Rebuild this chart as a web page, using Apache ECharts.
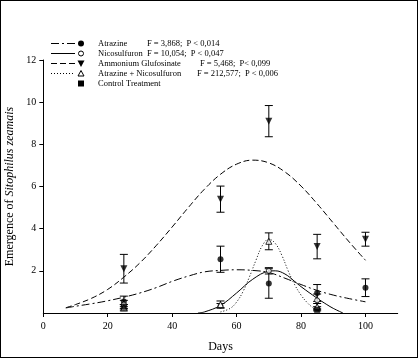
<!DOCTYPE html>
<html>
<head>
<meta charset="utf-8">
<script src="https://cdn.jsdelivr.net/npm/echarts@6/dist/echarts.min.js"></script>
<style>
  html, body { margin: 0; padding: 0; background: #fff; }
  #main { width: 416px; height: 356px; border: 1px solid #000; }
</style>
</head>
<body>
<div id="main"></div>
<script>
// measured values (mean, +/- error) per sampling day
const days = [25, 55, 70, 85, 100]
const atrazine = [0.55, 2.55, 1.4, 0.95, 1.2]
const atrazineErr = [0.25, 0.62, 0.7, 0.4, 0.42]
const nicosulfuron = [0.4, 0.35, 2.0, 0.6, null]
const nicosulfuronErr = [0.2, 0.1, 0.15, 0.3, null]
const glufosinate = [2.1, 5.4, 9.1, 3.15, 3.5]
const glufosinateErr = [0.68, 0.62, 0.74, 0.58, 0.33]
const atrNico = [0.25, 0.4, 3.4, 0.3, null]
const atrNicoErr = [0.15, 0.17, 0.4, 0.15, null]
const control = [0.3, null, null, 0.15, null]
const controlErr = [0.1, null, null, 0.05, null]

// fitted curves
const fitX = [7, 10, 15, 20, 25, 30, 35, 40, 45, 50, 55, 60, 65, 70, 75, 80, 85, 90, 95, 100]
const glufosinateFit = [0.25, 0.4, 0.7, 1.12, 1.7, 2.38, 3.19, 4.08, 5.0, 5.87, 6.58, 7.06, 7.25, 7.12, 6.69, 6.02, 5.18, 4.27, 3.36, 2.5]
const atrazineFit = [0.24, 0.32, 0.44, 0.58, 0.75, 0.95, 1.2, 1.5, 1.75, 1.95, 2.02, 2.05, 2.02, 1.92, 1.65, 1.35, 1.07, 0.85, 0.68, 0.53]
const nicoFitX = [48, 50, 55, 60, 65, 70, 72, 75, 78, 80, 85, 88, 90, 93]
const nicoFit = [0, 0.05, 0.36, 0.95, 1.6, 1.98, 2.0, 1.85, 1.5, 1.25, 0.7, 0.4, 0.22, 0]
const atrNicoFitX = [55, 58, 60, 62, 64, 66, 68, 70, 72, 74, 76, 78, 80, 82, 84, 86]
const atrNicoFit = [0.05, 0.22, 0.52, 1.02, 1.72, 2.5, 3.2, 3.5, 3.3, 2.75, 2.0, 1.35, 0.85, 0.48, 0.22, 0.07]

const xTicks = [0, 20, 40, 60, 80, 100]
const yTicks = [2, 4, 6, 8, 10, 12]

const legendNames = ['Atrazine', 'Nicosulfuron', 'Ammonium Glufosinate', 'Atrazine + Nicosulfuron', 'Control Treatment']
const legendStats = ['F = 3,868;  P < 0,014', 'F = 10,054;  P < 0,047', 'F = 5,468;  P< 0,099', 'F = 212,577;  P < 0,006', '']

const FONT = '"Liberation Serif", "Times New Roman", serif'
const chart = echarts.init(document.getElementById('main'))

const pairs = (xs, ys) => xs.map((x, i) => [x, ys[i]]).filter(p => p[1] != null)
const errData = (ys, es) => days.map((d, i) => [d, ys[i], es[i]]).filter(p => p[1] != null)

function errorSeries(ys, es) {
  return {
    type: 'custom',
    data: errData(ys, es),
    z: 3,
    renderItem: (params, api) => {
      const x = api.value(0), y = api.value(1), e = api.value(2)
      const top = api.coord([x, y + e])
      const bot = api.coord([x, y - e])
      const w = 4
      const s = { stroke: '#000', lineWidth: 1 }
      return {
        type: 'group',
        children: [
          { type: 'line', shape: { x1: top[0], y1: top[1], x2: bot[0], y2: bot[1] }, style: s },
          { type: 'line', shape: { x1: top[0] - w, y1: top[1], x2: top[0] + w, y2: top[1] }, style: s },
          { type: 'line', shape: { x1: bot[0] - w, y1: bot[1], x2: bot[0] + w, y2: bot[1] }, style: s }
        ]
      }
    }
  }
}

function markSeries(ys, symbol, size, filled) {
  return {
    type: 'scatter',
    data: pairs(days, ys),
    symbol: symbol,
    symbolSize: size,
    z: 4,
    itemStyle: filled ? { color: '#000' } : { color: '#fff', borderColor: '#000', borderWidth: 1 }
  }
}

function fitSeries(xs, ys, dash) {
  return {
    type: 'line',
    data: pairs(xs, ys),
    showSymbol: false,
    smooth: 0.4,
    z: 2,
    lineStyle: { color: '#000', width: 1, type: dash }
  }
}

// legend drawn by hand (line, then marker, then text)
const dashes = [[8, 3, 2, 3], 'solid', [6, 3], [1, 2], null]
const statX = [146, 146, 199, 196, 0]
const legendGraphics = []
legendNames.forEach((name, i) => {
  const cy = 42.5 + i * 10
  if (dashes[i]) {
    legendGraphics.push({
      type: 'line', shape: { x1: 50, y1: cy, x2: 74, y2: cy },
      style: { stroke: '#000', lineWidth: 1, lineDash: dashes[i] === 'solid' ? null : dashes[i] }
    })
  }
  const mx = 80
  if (i === 0) legendGraphics.push({ type: 'circle', shape: { cx: mx, cy: cy, r: 3 }, style: { fill: '#000' } })
  if (i === 1) legendGraphics.push({ type: 'circle', shape: { cx: mx, cy: cy, r: 2.5 }, style: { fill: '#fff', stroke: '#000' } })
  if (i === 2) legendGraphics.push({ type: 'polygon', shape: { points: [[mx - 3.5, cy - 3], [mx + 3.5, cy - 3], [mx, cy + 3.5]] }, style: { fill: '#000' } })
  if (i === 3) legendGraphics.push({ type: 'polygon', shape: { points: [[mx - 3, cy + 2.5], [mx + 3, cy + 2.5], [mx, cy - 3]] }, style: { fill: '#fff', stroke: '#000' } })
  if (i === 4) legendGraphics.push({ type: 'rect', shape: { x: mx - 3, y: cy - 3, width: 6, height: 6 }, style: { fill: '#000' } })
  legendGraphics.push({
    type: 'text', x: 97, y: cy,
    style: { text: name, font: '8.5px ' + FONT, fill: '#000', verticalAlign: 'middle' }
  })
  if (legendStats[i]) {
    legendGraphics.push({
      type: 'text', x: statX[i], y: cy,
      style: { text: legendStats[i], font: '8.5px ' + FONT, fill: '#000', verticalAlign: 'middle' }
    })
  }
})

const option = {
  backgroundColor: '#fff',
  animation: false,
  textStyle: { fontFamily: FONT },
  grid: { left: 42.3, right: 19.3, top: 59, bottom: 44, outerBoundsMode: 'none', containLabel: false },
  xAxis: {
    type: 'value', min: 0, max: 110,
    name: 'Days', nameLocation: 'middle', nameGap: 28,
    nameTextStyle: { fontFamily: FONT, fontSize: 12, color: '#000' },
    splitLine: { show: false },
    axisLine: { lineStyle: { color: '#000', width: 1 } },
    axisTick: { length: 4, lineStyle: { color: '#000' }, customValues: xTicks },
    axisLabel: { fontFamily: FONT, fontSize: 10, color: '#000', margin: 8, customValues: xTicks }
  },
  yAxis: {
    type: 'value', min: 0, max: 12,
    name: 'Emergence of {i|Sitophilus zeamais}', nameLocation: 'middle', nameGap: 25, nameRotate: 90,
    nameTextStyle: {
      fontFamily: FONT, fontSize: 12, color: '#000',
      rich: { i: { fontFamily: FONT, fontSize: 12, fontStyle: 'italic', color: '#000' } }
    },
    splitLine: { show: false },
    axisLine: { show: true, lineStyle: { color: '#000', width: 1 } },
    axisTick: { show: true, length: 4, lineStyle: { color: '#000' }, customValues: yTicks },
    axisLabel: { fontFamily: FONT, fontSize: 10, color: '#000', margin: 7, customValues: yTicks }
  },
  graphic: legendGraphics,
  series: [
    fitSeries(fitX, glufosinateFit, [6, 3]),
    fitSeries(fitX, atrazineFit, [8, 3, 2, 3]),
    fitSeries(nicoFitX, nicoFit, 'solid'),
    fitSeries(atrNicoFitX, atrNicoFit, [1, 2]),
    errorSeries(glufosinate, glufosinateErr),
    errorSeries(atrazine, atrazineErr),
    errorSeries(nicosulfuron, nicosulfuronErr),
    errorSeries(atrNico, atrNicoErr),
    errorSeries(control, controlErr),
    markSeries(glufosinate, 'triangle', 7, true),
    markSeries(atrazine, 'circle', 6, true),
    markSeries(nicosulfuron, 'circle', 5, false),
    markSeries(atrNico, 'triangle', 6, false),
    markSeries(control, 'rect', 6, true)
  ]
}
// downward triangle for glufosinate
option.series[9].symbolRotate = 180

chart.setOption(option)
</script>
</body>
</html>
